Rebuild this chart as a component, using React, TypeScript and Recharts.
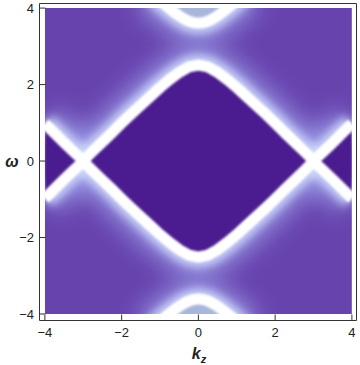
import { ComposedChart, Area, XAxis, YAxis, ReferenceArea, Label } from "recharts";

// k_z sample points
const kz = [
  -4, -3.75, -3.5, -3.25, -3, -2.75, -2.5, -2.25, -2, -1.75, -1.5, -1.25, -1, -0.75, -0.5, -0.25, 0,
  0.25, 0.5, 0.75, 1, 1.25, 1.5, 1.75, 2, 2.25, 2.5, 2.75, 3, 3.25, 3.5, 3.75, 4,
];
// centre of the bright band that forms the diamond and the X crossings
const lowerBand = [
  -0.98, -0.73, -0.48, -0.24, 0.01, 0.26, 0.5, 0.74, 0.99, 1.23, 1.46, 1.69, 1.92, 2.13, 2.32, 2.46, 2.51,
  2.46, 2.32, 2.13, 1.92, 1.69, 1.46, 1.23, 0.99, 0.74, 0.5, 0.26, 0.01, -0.24, -0.48, -0.73, -0.98,
];
// centre of the arcs near the top and bottom edges
const upperBand: (number | null)[] = [
  null, null, null, null, null, null, null, null, null, null, null,
  4.43, 4.2, 3.99, 3.8, 3.66, 3.61, 3.66, 3.8, 3.99, 4.2, 4.43,
  null, null, null, null, null, null, null, null, null, null, null,
];

const majorTicks = [-4, -2, 0, 2, 4];
const minorTicks = [-4, -3.5, -3, -2.5, -2, -1.5, -1, -0.5, 0, 0.5, 1, 1.5, 2, 2.5, 3, 3.5, 4];

const xDomain = [-4.14, 4.12];
const yDomain = [-4.17, 4.12];

const rows = kz.map((k, i) => {
  const b = Math.abs(lowerBand[i]);
  const u = upperBand[i];
  return {
    k,
    bg: [-4, 4],
    dark: [-b, b],
    arc: u == null ? null : [-u, u],
    capTop: u == null ? null : [u, 4.6],
    capBot: u == null ? null : [-4.6, -u],
  };
});

const font = "'Liberation Sans', Arial, sans-serif";
const tickStyle = { fontSize: 13, fill: "#222", fontFamily: font };
const fmt = (v: number) => (v < 0 ? "\u2212" + Math.abs(v) : String(v));

const KzLabel = (props: any) => {
  const vb = props.viewBox || { x: 39.5, y: 320.5, width: 317, height: 44.5 };
  return (
    <text
      x={vb.x + vb.width / 2 + 1}
      y={vb.y + 38.5}
      textAnchor="middle"
      fontFamily={font}
      fontWeight="bold"
      fontStyle="italic"
      fontSize={16}
      fill="#222"
    >
      k<tspan fontSize={11} dy={4}>z</tspan>
    </text>
  );
};

const OmegaLabel = (props: any) => {
  const vb = props.viewBox || { x: 0, y: 3.5, width: 39.5, height: 317 };
  return (
    <text
      x={vb.x + 12}
      y={vb.y + vb.height / 2 + 5}
      textAnchor="middle"
      fontFamily={font}
      fontWeight="bold"
      fontStyle="italic"
      fontSize={16}
      fill="#222"
    >
      ω
    </text>
  );
};

const hidden = { fill: "none", stroke: "none", isAnimationActive: false, dataKey: "bg" };

export default function App() {
  return (
    <div>
      <style>{"body{margin:0}"}</style>
      <ComposedChart width={360} height={365} data={rows} margin={{ top: 0, right: 0, bottom: 0, left: 0 }}>
        <defs>
          <filter id="glowWide" x="-100%" y="-300%" width="300%" height="700%">
            <feGaussianBlur stdDeviation="11" />
          </filter>
          <filter id="glowMid" x="-100%" y="-300%" width="300%" height="700%">
            <feGaussianBlur stdDeviation="4" />
          </filter>
          <filter id="soft" x="-100%" y="-300%" width="300%" height="700%">
            <feGaussianBlur stdDeviation="1.2" />
          </filter>
        </defs>

        <Area dataKey="bg" type="linear" fill="#6743ae" fillOpacity={1} stroke="none" isAnimationActive={false} zIndex={101} />
        <Area dataKey="dark" type="linear" fill="none" stroke="#9fa6ee" strokeOpacity={0.65} strokeWidth={44} filter="url(#glowWide)" isAnimationActive={false} zIndex={102} />
        <Area dataKey="arc" type="monotone" fill="none" stroke="#9fa6ee" strokeOpacity={0.65} strokeWidth={44} filter="url(#glowWide)" isAnimationActive={false} zIndex={103} />
        <Area dataKey="dark" type="linear" fill="none" stroke="#cdd6fb" strokeOpacity={0.9} strokeWidth={22} filter="url(#glowMid)" isAnimationActive={false} zIndex={104} />
        <Area dataKey="arc" type="monotone" fill="none" stroke="#cdd6fb" strokeOpacity={0.9} strokeWidth={22} filter="url(#glowMid)" isAnimationActive={false} zIndex={105} />
        <Area dataKey="dark" type="linear" fill="#4c1a8f" fillOpacity={1} stroke="none" filter="url(#soft)" isAnimationActive={false} zIndex={106} />
        <Area dataKey="capTop" type="monotone" fill="#a9b6dc" fillOpacity={1} stroke="none" filter="url(#soft)" isAnimationActive={false} zIndex={107} />
        <Area dataKey="capBot" type="monotone" fill="#a9b6dc" fillOpacity={1} stroke="none" filter="url(#soft)" isAnimationActive={false} zIndex={107} />
        <Area dataKey="dark" type="linear" fill="none" stroke="#ffffff" strokeWidth={11} filter="url(#soft)" isAnimationActive={false} zIndex={108} />
        <Area dataKey="arc" type="monotone" fill="none" stroke="#ffffff" strokeWidth={11} filter="url(#soft)" isAnimationActive={false} zIndex={109} />

        {/* hidden series so that the frame axes get a scale */}
        <Area {...hidden} xAxisId="t" yAxisId="r" />
        <Area {...hidden} xAxisId="bm" yAxisId="lm" />
        <Area {...hidden} xAxisId="tm" yAxisId="rm" />

        <ReferenceArea x1={xDomain[0]} x2={-4} y1={yDomain[0]} y2={yDomain[1]} fill="#fff" fillOpacity={1} stroke="none" zIndex={450} />
        <ReferenceArea x1={4} x2={xDomain[1]} y1={yDomain[0]} y2={yDomain[1]} fill="#fff" fillOpacity={1} stroke="none" zIndex={450} />
        <ReferenceArea x1={xDomain[0]} x2={xDomain[1]} y1={4} y2={yDomain[1]} fill="#fff" fillOpacity={1} stroke="none" zIndex={450} />
        <ReferenceArea x1={xDomain[0]} x2={xDomain[1]} y1={yDomain[0]} y2={-4} fill="#fff" fillOpacity={1} stroke="none" zIndex={450} />

        <XAxis xAxisId={0} type="number" dataKey="k" domain={xDomain} allowDataOverflow ticks={majorTicks} interval={0}
          tickSize={-6} tickMargin={13} height={44.5} tick={tickStyle} tickFormatter={fmt} stroke="#333">
          <Label content={KzLabel} />
        </XAxis>
        <XAxis xAxisId="bm" type="number" dataKey="k" domain={xDomain} allowDataOverflow ticks={minorTicks} interval={0}
          mirror tick={false} tickSize={4} axisLine={false} height={0} stroke="#333" />
        <XAxis xAxisId="t" orientation="top" type="number" dataKey="k" domain={xDomain} allowDataOverflow ticks={majorTicks} interval={0}
          tick={false} tickSize={-6} height={3.5} stroke="#333" />
        <XAxis xAxisId="tm" orientation="top" type="number" dataKey="k" domain={xDomain} allowDataOverflow ticks={minorTicks} interval={0}
          mirror tick={false} tickSize={4} axisLine={false} height={0} stroke="#333" />

        <YAxis yAxisId={0} type="number" domain={yDomain} allowDataOverflow ticks={majorTicks} interval={0}
          tickSize={-6} tickMargin={11.5} width={39.5} tick={tickStyle} tickFormatter={fmt} stroke="#333">
          <Label content={OmegaLabel} />
        </YAxis>
        <YAxis yAxisId="lm" type="number" domain={yDomain} allowDataOverflow ticks={minorTicks} interval={0}
          mirror tick={false} tickSize={4} axisLine={false} width={0} stroke="#333" />
        <YAxis yAxisId="r" orientation="right" type="number" domain={yDomain} allowDataOverflow ticks={majorTicks} interval={0}
          tick={false} tickSize={-6} width={3.5} stroke="#333" />
        <YAxis yAxisId="rm" orientation="right" type="number" domain={yDomain} allowDataOverflow ticks={minorTicks} interval={0}
          mirror tick={false} tickSize={4} axisLine={false} width={0} stroke="#333" />
      </ComposedChart>
    </div>
  );
}
